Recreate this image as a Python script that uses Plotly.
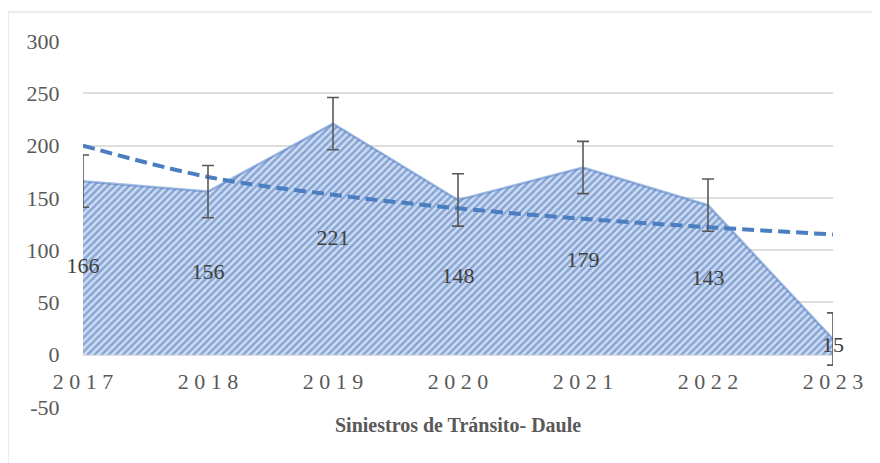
import plotly.graph_objects as go

years = [2017, 2018, 2019, 2020, 2021, 2022, 2023]
year_labels = ["2 0 1 7", "2 0 1 8", "2 0 1 9", "2 0 2 0", "2 0 2 1", "2 0 2 2", "2 0 2 3"]
siniestros = [166, 156, 221, 148, 179, 143, 15]
error_margin = [25, 25, 25, 25, 25, 25, 25]
trend = [200, 170, 153, 140, 130, 122, 115]
y_ticks = [-50, 0, 50, 100, 150, 200, 250, 300]
y_tick_labels = ["-50", "0", "50", "100", "150", "200", "250", "300"]

FONT = "Liberation Serif"

fig = go.Figure()

# Area with hatched fill
fig.add_trace(go.Scatter(
    x=years, y=siniestros, mode="lines", fill="tozeroy",
    line=dict(color="rgba(70,120,195,0.5)", width=2.5),
    fillcolor="#d0dcf0",
    fillpattern=dict(shape="/", fgcolor="#3b6dbd", bgcolor="#d0dcf0",
                     size=5, solidity=0.5),
    hoverinfo="skip", showlegend=False,
))

# Trendline
fig.add_trace(go.Scatter(
    x=years, y=trend, mode="lines",
    line=dict(color="#4a7ec0", width=4, dash="12px,6px", shape="spline"),
    hoverinfo="skip", showlegend=False,
))

# Error bars
fig.add_trace(go.Scatter(
    x=years, y=siniestros, mode="markers",
    marker=dict(size=1, opacity=0),
    error_y=dict(type="data", array=error_margin, visible=True,
                 color="#595959", thickness=1.6, width=6),
    cliponaxis=True, hoverinfo="skip", showlegend=False,
))

# Data labels (placed at mid-height of the area)
fig.add_trace(go.Scatter(
    x=years, y=[v / 2 for v in siniestros], mode="text",
    text=[str(v) for v in siniestros],
    textfont=dict(family=FONT, size=22, color="#404040"),
    textposition="middle center",
    cliponaxis=False, hoverinfo="skip", showlegend=False,
))

fig.update_layout(
    width=872, height=455,
    margin=dict(l=75, r=47, t=33, b=56, autoexpand=False),
    paper_bgcolor="white", plot_bgcolor="white",
    font=dict(family=FONT, color="#595959"),
    xaxis=dict(
        range=[years[0], years[-1]],
        tickvals=years, ticktext=year_labels,
        tickfont=dict(family=FONT, size=22, color="#595959"),
        showgrid=False, zeroline=False, showline=False,
        anchor="free", position=50 / 350, automargin=False,
        ticks="outside", ticklen=7, tickcolor="rgba(0,0,0,0)",
    ),
    yaxis=dict(
        range=[-50, 300], tickvals=y_ticks, ticktext=y_tick_labels,
        tickfont=dict(family=FONT, size=22, color="#595959"),
        showgrid=True, gridcolor="#dedede", gridwidth=1.5,
        zeroline=False, showline=False, automargin=False,
        ticks="outside", ticklen=18, tickcolor="rgba(0,0,0,0)",
    ),
    shapes=[dict(type="rect", xref="paper", yref="paper",
                 x0=-75 / 750, x1=1.2, y0=-0.5, y1=1 + 29 / 366,
                 line=dict(color="#d9d9d9", width=1), layer="below")],
    annotations=[dict(
        text="<b>Siniestros de Tránsito- Daule</b>",
        xref="paper", yref="paper", x=(458 - 83) / 750, y=-(425 - 407) / 366,
        xanchor="center", yanchor="middle", showarrow=False,
        font=dict(family=FONT, size=20, color="#595959"),
    )],
)

fig.write_html("out.html")
